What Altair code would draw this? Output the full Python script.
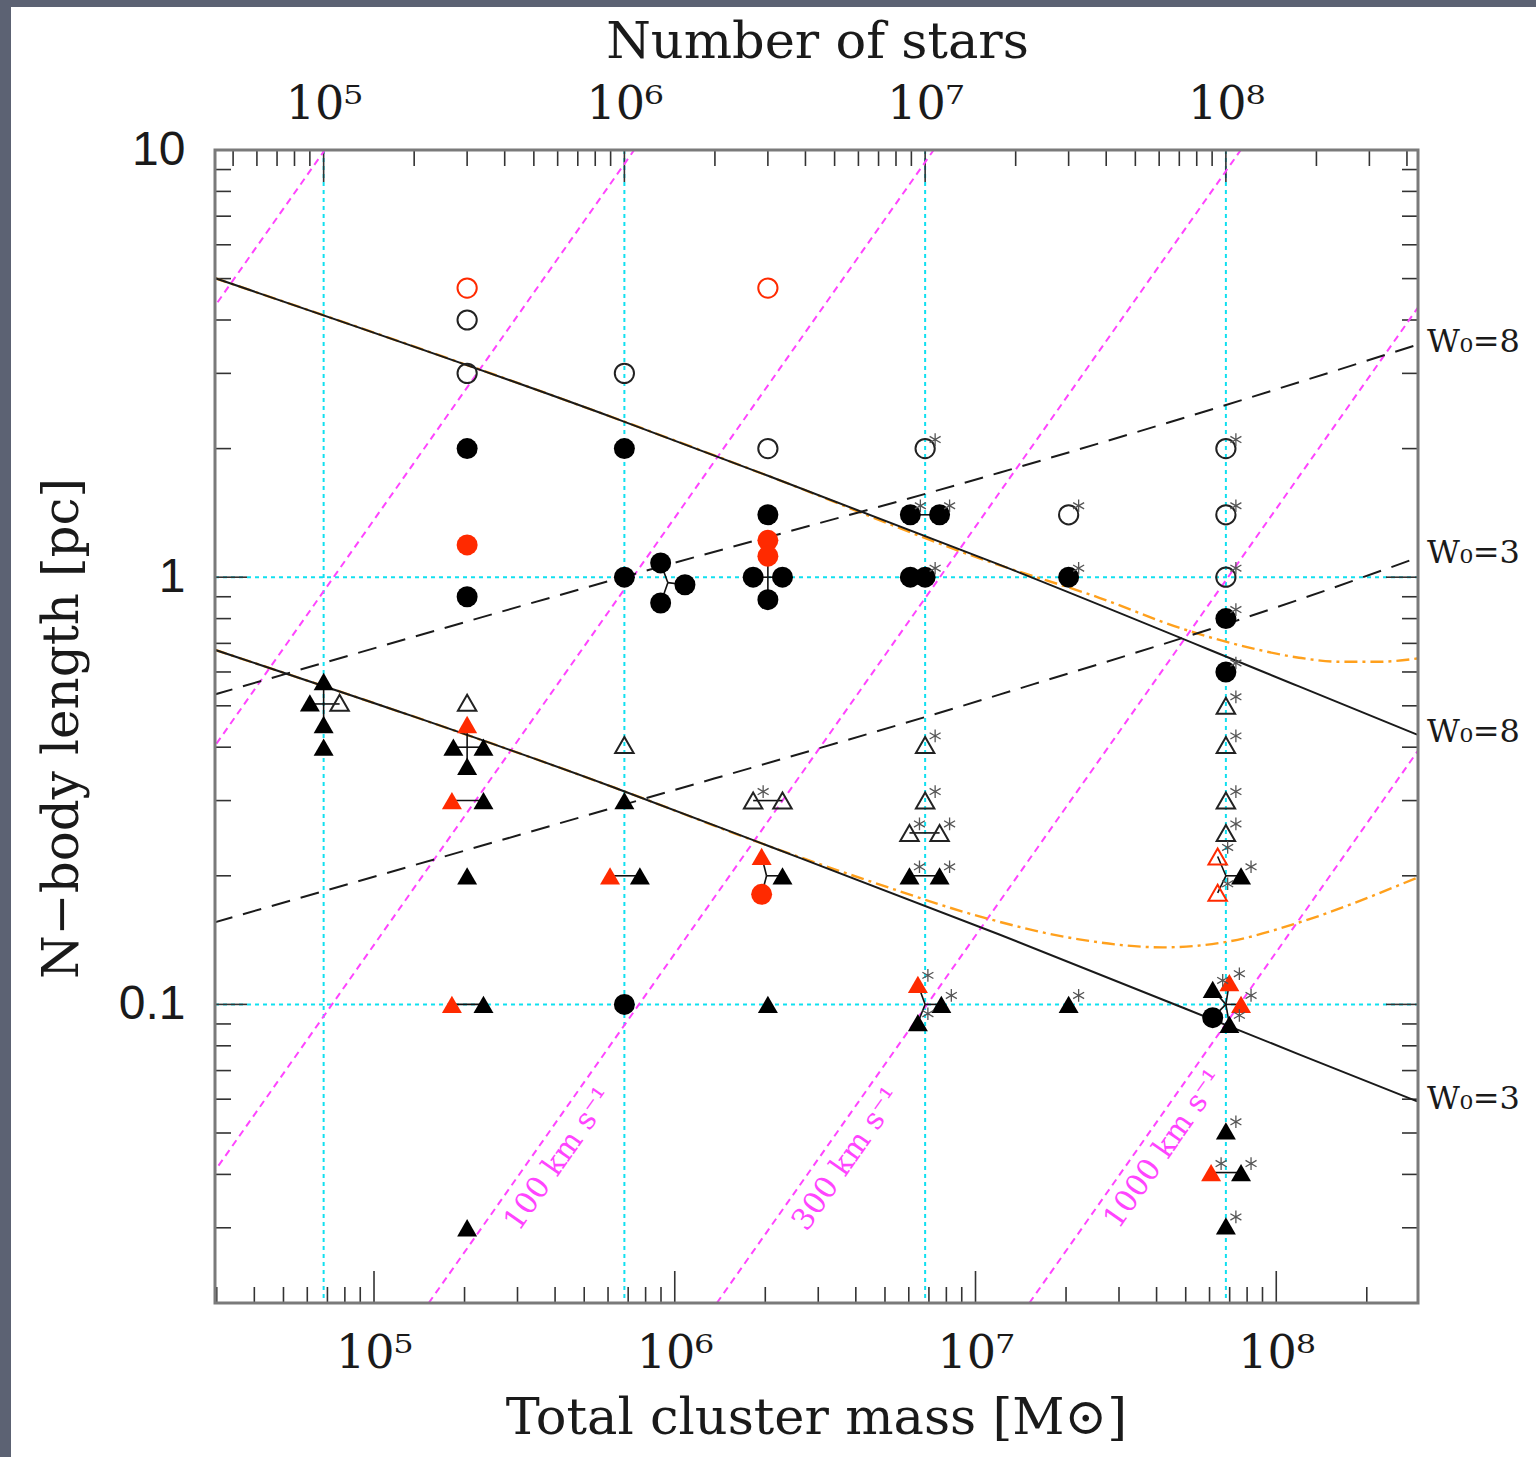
import altair as alt
import pandas as pd

# ---------------- layout constants ----------------
W, H = 1203, 1153
PAD = {"left": 215, "top": 150, "right": 118, "bottom": 154}
M_MIN, M_MAX = 2.96e4, 2.96e8      # total cluster mass range [Msun]
R_MIN, R_MAX = 0.02, 10.0          # N-body length range [pc]
MSTAR = 0.68                       # mean stellar mass linking top (N) and bottom (M) axes
N_MIN, N_MAX = M_MIN / MSTAR, M_MAX / MSTAR

# ---------------- data ----------------
# model curves (mass, length)
w8_solid_mass = [2.94e4, 6.28e5, 2.03e6, 1.20e7, 1.19e8, 2.94e8]
w8_solid_r = [5.02, 2.36, 1.73, 1.07, 0.555, 0.428]
w3_solid_mass = [2.94e4, 6.28e5, 2.03e6, 1.20e7, 1.19e8, 2.94e8]
w3_solid_r = [0.677, 0.322, 0.2355, 0.1458, 0.0764, 0.0593]

w8_dash_mass = [2.94e4, 6.28e5, 1.20e7, 5.75e7, 2.94e8]
w8_dash_r = [0.531, 0.987, 1.756, 2.44, 3.50]
w3_dash_mass = [2.94e4, 6.28e5, 1.20e7, 1.19e8, 2.94e8]
w3_dash_r = [0.1555, 0.289, 0.531, 0.886, 1.11]

w8_tidal_mass = [2.94e4, 6.28e5, 2.03e6, 1.11e7, 2.58e7, 4.75e7, 8.13e7, 1.19e8, 1.62e8, 2.20e8, 2.94e8]
w8_tidal_r = [5.02, 2.36, 1.73, 1.087, 0.895, 0.762, 0.684, 0.648, 0.634, 0.634, 0.645]
w3_tidal_mass = [2.94e4, 6.28e5, 2.03e6, 4.78e6, 1.03e7, 2.21e7, 4.18e7, 6.97e7, 1.19e8, 2.94e8]
w3_tidal_r = [0.677, 0.322, 0.2355, 0.191, 0.1607, 0.142, 0.136, 0.1404, 0.1555, 0.198]

# constant-velocity lines: mass where each line meets r = 0.02 pc and r = 10 pc
vel_names = ["3", "10", "30", "100", "300", "1000"]
vel_mass_bottom = [1.37e2, 1.47e3, 1.45e4, 1.52e5, 1.38e6, 1.51e7]
vel_mass_top = [6.86e4, 7.33e5, 7.26e6, 7.62e7, 6.92e8, 7.53e9]

vel_label_text = ["100 km s\u207b\u00b9", "300 km s\u207b\u00b9", "1000 km s\u207b\u00b9"]
vel_label_mass = [4.12e5, 3.74e6, 4.24e7]
vel_label_r = [0.0434, 0.0434, 0.0458]

w_label_text = ["W\u2080=8", "W\u2080=3", "W\u2080=8", "W\u2080=3"]
w_label_r = [3.55, 1.14, 0.433, 0.06]

grid_N = [1e5, 1e6, 1e7, 1e8]
grid_r = [1.0, 0.1]

# simulation markers: (number of stars, length [pc], asterisk flag)
black_filled_tri = [
    (1.0e5, 0.57, 0), (9.0e4, 0.508, 0), (1.0e5, 0.452, 0), (1.0e5, 0.40, 0),
    (2.7e5, 0.40, 0), (3.4e5, 0.40, 0), (3e5, 0.361, 0), (3.4e5, 0.30, 0),
    (3e5, 0.20, 0), (3.4e5, 0.10, 0), (3e5, 0.03, 0),
    (1e6, 0.30, 0), (1.126e6, 0.20, 0), (3.355e6, 0.20, 0), (3e6, 0.10, 0),
    (8.87e6, 0.20, 1), (1.117e7, 0.20, 1), (1.132e7, 0.10, 1), (9.46e6, 0.0906, 1),
    (3e7, 0.10, 1),
    (1.123e8, 0.20, 1), (9.04e7, 0.1084, 1), (1.027e8, 0.0898, 1),
    (1e8, 0.0506, 1), (1.123e8, 0.0404, 1), (1e8, 0.0303, 1),
]
red_filled_tri = [
    (3e5, 0.452, 0), (2.67e5, 0.30, 0), (2.67e5, 0.10, 0), (8.96e5, 0.20, 0),
    (2.86e6, 0.222, 0), (9.46e6, 0.1114, 1), (1.027e8, 0.1124, 1),
    (1.123e8, 0.10, 1), (8.93e7, 0.0404, 1),
]
black_open_tri = [
    (1.13e5, 0.508, 0), (3e5, 0.508, 0), (1e6, 0.405, 0),
    (2.68e6, 0.30, 1), (3.355e6, 0.30, 0),
    (1e7, 0.405, 1), (1e7, 0.30, 1), (8.87e6, 0.252, 1), (1.117e7, 0.252, 1),
    (1e8, 0.50, 1), (1e8, 0.405, 1), (1e8, 0.30, 1), (1e8, 0.252, 1),
]
red_open_tri = [(9.39e7, 0.222, 1), (9.39e7, 0.1825, 1)]
black_filled_circ = [
    (3e5, 2.0, 0), (3e5, 0.9, 0),
    (1e6, 2.0, 0), (1e6, 1.0, 0), (1.32e6, 1.08, 0), (1.59e6, 0.96, 0),
    (1.32e6, 0.87, 0), (1e6, 0.10, 0),
    (3e6, 1.40, 0), (2.68e6, 1.0, 0), (3.355e6, 1.0, 0), (3e6, 0.886, 0),
    (8.93e6, 1.40, 1), (1.117e7, 1.40, 1), (8.93e6, 1.0, 0), (1e7, 1.0, 1),
    (3e7, 1.0, 1), (1e8, 0.80, 1), (1e8, 0.60, 1), (9.04e7, 0.0931, 0),
]
red_filled_circ = [(3e5, 1.19, 0), (3e6, 1.22, 0), (3e6, 1.12, 0), (2.86e6, 0.181, 0)]
black_open_circ = [
    (3e5, 4.0, 0), (3e5, 3.0, 0), (1e6, 3.0, 0), (3e6, 2.0, 0), (1e7, 2.0, 1),
    (3e7, 1.40, 1), (1e8, 2.0, 1), (1e8, 1.40, 1), (1e8, 1.0, 1),
]
red_open_circ = [(3e5, 4.75, 0), (3e6, 4.75, 0)]

# connecting segments between displaced markers: (N1, r1, N2, r2)
connectors = [
    (1e5, 0.57, 1e5, 0.452), (9.0e4, 0.505, 1.13e5, 0.505),
    (3e5, 0.452, 3e5, 0.361), (2.7e5, 0.40, 3.4e5, 0.40),
    (2.67e5, 0.30, 3.4e5, 0.30), (2.67e5, 0.10, 3.4e5, 0.10),
    (1.395e6, 0.971, 1.32e6, 1.08), (1.395e6, 0.971, 1.59e6, 0.96), (1.395e6, 0.971, 1.32e6, 0.87),
    (8.96e5, 0.20, 1.126e6, 0.20),
    (3e6, 1.12, 3e6, 0.886), (2.68e6, 1.0, 3.355e6, 1.0),
    (2.68e6, 0.30, 3.355e6, 0.30),
    (2.86e6, 0.222, 2.97e6, 0.20), (2.97e6, 0.20, 2.86e6, 0.181), (2.97e6, 0.20, 3.355e6, 0.20),
    (8.93e6, 1.40, 1.117e7, 1.40), (8.87e6, 0.252, 1.117e7, 0.252), (8.87e6, 0.20, 1.117e7, 0.20),
    (1e7, 0.10, 9.46e6, 0.1114), (1e7, 0.10, 1.132e7, 0.10), (1e7, 0.10, 9.46e6, 0.0906),
    (1e8, 0.20, 9.39e7, 0.222), (1e8, 0.20, 1.123e8, 0.20), (1e8, 0.20, 9.39e7, 0.1825),
    (1e8, 0.10, 9.04e7, 0.1084), (1e8, 0.10, 1.027e8, 0.1124), (1e8, 0.10, 1.123e8, 0.10),
    (1e8, 0.10, 9.04e7, 0.0931), (1e8, 0.10, 1.027e8, 0.0898),
    (8.93e7, 0.0404, 1.123e8, 0.0404),
]

# axis tick positions
r_major = [0.1, 1.0, 10.0]
r_minor = [k * d for d in (0.01, 0.1, 1.0) for k in range(2, 10) if R_MIN <= k * d <= R_MAX]
m_major = [1e5, 1e6, 1e7, 1e8]
m_minor = [k * d for d in (1e4, 1e5, 1e6, 1e7, 1e8) for k in range(2, 10) if M_MIN <= k * d <= M_MAX]
n_major = [1e5, 1e6, 1e7, 1e8]
n_minor = [k * d for d in (1e4, 1e5, 1e6, 1e7, 1e8) for k in range(2, 10) if N_MIN <= k * d <= N_MAX]

# ---------------- styles ----------------
BORDER = "#5c6273"
CYAN = "#10e0f0"
MAGENTA = "#ff44ff"
ORANGE = "#ffa01c"
RED = "#ff2a00"
INK = "#1a1a1a"
TICK = "#333333"
SERIF = "DejaVu Serif"

yscale = alt.Scale(type="log", domain=[R_MIN, R_MAX], nice=False)
mscale = alt.Scale(type="log", domain=[M_MIN, M_MAX], nice=False)
nscale = alt.Scale(type="log", domain=[N_MIN, N_MAX], nice=False)

SUP = "'10' + ['\u2070','\u00b9','\u00b2','\u00b3','\u2074','\u2075','\u2076','\u2077','\u2078','\u2079'][round(log(datum.value)/LN10)]"

mass_axis = alt.Axis(
    orient="bottom", values=m_major, labelExpr=SUP, ticks=False, domain=False, grid=False,
    labelFont=SERIF, labelFontSize=46, labelColor=INK, labelPadding=28,
    labelFlush=False, labelOverlap=False, zindex=2,
    title="Total cluster mass [M\u2299]", titleFont=SERIF, titleFontSize=51,
    titleFontWeight="normal", titleColor=INK, titleX=601, titleY=115,
    titleBaseline="middle", titleAlign="center",
)
n_axis = alt.Axis(
    orient="top", values=n_major, labelExpr=SUP, ticks=False, domain=False, grid=False,
    labelFont=SERIF, labelFontSize=46, labelColor=INK, labelPadding=22,
    labelFlush=False, labelOverlap=False, zindex=2,
    title="Number of stars", titleFont=SERIF, titleFontSize=51,
    titleFontWeight="normal", titleColor=INK, titleX=602, titleY=-108,
    titleBaseline="middle", titleAlign="center",
)
r_axis = alt.Axis(
    orient="left", values=r_major, format="~g", ticks=False, domain=False, grid=False,
    labelFont="Liberation Sans", labelFontSize=48, labelColor=INK, labelPadding=30,
    labelFlush=False, labelOverlap=False, zindex=2,
    title="N\u2212body length [pc]", titleFont=SERIF, titleFontSize=50,
    titleFontWeight="normal", titleColor=INK, titleX=-153, titleY=578,
    titleAngle=270, titleBaseline="middle", titleAlign="center",
)

# every layer that shares a scale carries the very same axis definition
def Y():
    return alt.Y("r:Q", scale=yscale, axis=r_axis)


def XM(with_axis):
    return alt.X("M:Q", scale=mscale, axis=mass_axis if with_axis else None)


def XN(with_axis):
    return alt.X("N:Q", scale=nscale, axis=n_axis if with_axis else None)


def curves(pairs):
    frames = [pd.DataFrame({"line": name, "M": m, "r": r}) for name, m, r in pairs]
    return pd.concat(frames, ignore_index=True)


# ---------------- group 1: page border, horizontal grid, frame ticks (mass axis) ----------------
one = pd.DataFrame({"k": [0]})
border_left = alt.Chart(one).mark_rect(color=BORDER).encode(
    x=alt.value(-PAD["left"]), x2=alt.value(-PAD["left"] + 11),
    y=alt.value(-PAD["top"]), y2=alt.value(H + PAD["bottom"]),
)
border_top = alt.Chart(one).mark_rect(color=BORDER).encode(
    x=alt.value(-PAD["left"]), x2=alt.value(W + PAD["right"]),
    y=alt.value(-PAD["top"]), y2=alt.value(-PAD["top"] + 7),
)
hgrid = alt.Chart(pd.DataFrame({"r": grid_r})).mark_rule(
    color=CYAN, strokeDash=[4, 4], strokeWidth=2
).encode(y=Y(), x=alt.value(0), x2=alt.value(W))

df_rmin = pd.DataFrame({"r": r_minor})
df_rmaj = pd.DataFrame({"r": r_major})
lt_min = alt.Chart(df_rmin).mark_rule(color=TICK, strokeWidth=1.6).encode(
    y=Y(), x=alt.value(0), x2=alt.value(16))
lt_maj = alt.Chart(df_rmaj).mark_rule(color=TICK, strokeWidth=1.6).encode(
    y=Y(), x=alt.value(0), x2=alt.value(32))
rt_min = alt.Chart(df_rmin).mark_rule(color=TICK, strokeWidth=1.6).encode(
    y=Y(), x=alt.value(W - 16), x2=alt.value(W))
rt_maj = alt.Chart(df_rmaj).mark_rule(color=TICK, strokeWidth=1.6).encode(
    y=Y(), x=alt.value(W - 32), x2=alt.value(W))
bt_min = alt.Chart(pd.DataFrame({"M": m_minor})).mark_rule(color=TICK, strokeWidth=1.6).encode(
    x=XM(True), y=alt.value(H - 16), y2=alt.value(H))
bt_maj = alt.Chart(pd.DataFrame({"M": m_major})).mark_rule(color=TICK, strokeWidth=1.6).encode(
    x=XM(True), y=alt.value(H - 32), y2=alt.value(H))

group_bg = alt.layer(border_left, border_top, hgrid, lt_min, lt_maj, rt_min, rt_maj, bt_min, bt_maj)

# ---------------- group 2: vertical grid and top (number of stars) ticks ----------------
vgrid = alt.Chart(pd.DataFrame({"N": grid_N})).mark_rule(
    color=CYAN, strokeDash=[4, 4], strokeWidth=2
).encode(x=XN(True), y=alt.value(0), y2=alt.value(H))
tt_min = alt.Chart(pd.DataFrame({"N": n_minor})).mark_rule(color=TICK, strokeWidth=1.6).encode(
    x=XN(True), y=alt.value(0), y2=alt.value(16))
tt_maj = alt.Chart(pd.DataFrame({"N": n_major})).mark_rule(color=TICK, strokeWidth=1.6).encode(
    x=XN(True), y=alt.value(0), y2=alt.value(32))

group_n1 = alt.layer(vgrid, tt_min, tt_maj)

# ---------------- group 3: model curves and annotations ----------------
vel_df = pd.DataFrame({
    "line": vel_names + vel_names,
    "M": vel_mass_bottom + vel_mass_top,
    "r": [R_MIN] * len(vel_names) + [R_MAX] * len(vel_names),
})
vel_lines = alt.Chart(vel_df).mark_line(
    color=MAGENTA, strokeDash=[7, 5], strokeWidth=2, clip=True
).encode(x=XM(False), y=Y(), detail="line:N")

tidal_df = curves([("W8", w8_tidal_mass, w8_tidal_r), ("W3", w3_tidal_mass, w3_tidal_r)])
tidal = alt.Chart(tidal_df).mark_line(
    color=ORANGE, strokeDash=[13, 5, 3, 5], strokeWidth=2.4, clip=True, interpolate="monotone"
).encode(x=XM(False), y=Y(), detail="line:N")

dash_df = curves([("W8", w8_dash_mass, w8_dash_r), ("W3", w3_dash_mass, w3_dash_r)])
dashed = alt.Chart(dash_df).mark_line(
    color=INK, strokeDash=[19, 11], strokeWidth=2, clip=True, interpolate="monotone"
).encode(x=XM(False), y=Y(), detail="line:N")

solid_df = curves([("W8", w8_solid_mass, w8_solid_r), ("W3", w3_solid_mass, w3_solid_r)])
solid = alt.Chart(solid_df).mark_line(
    color=INK, strokeWidth=2, clip=True, interpolate="monotone"
).encode(x=XM(False), y=Y(), detail="line:N")

vlab = alt.Chart(pd.DataFrame({"M": vel_label_mass, "r": vel_label_r, "t": vel_label_text})).mark_text(
    angle=305, font=SERIF, fontSize=30, color=MAGENTA, align="center", baseline="middle"
).encode(x=XM(False), y=Y(), text="t:N")

wlab = alt.Chart(pd.DataFrame({"M": [M_MAX] * 4, "r": w_label_r, "t": w_label_text})).mark_text(
    font=SERIF, fontSize=32, color=INK, align="left", baseline="middle", dx=9
).encode(x=XM(False), y=Y(), text="t:N")

group_lines = alt.layer(vel_lines, tidal, dashed, solid, vlab, wlab)

# ---------------- group 4: simulation markers ----------------
rows = []
for lst, shape, filled, col in [
    (black_filled_circ, "circle", True, "#000000"),
    (red_filled_circ, "circle", True, RED),
    (black_open_circ, "circle", False, "#222222"),
    (red_open_circ, "circle", False, RED),
    (black_filled_tri, "triangle-up", True, "#000000"),
    (red_filled_tri, "triangle-up", True, RED),
    (black_open_tri, "triangle-up", False, "#222222"),
    (red_open_tri, "triangle-up", False, RED),
]:
    for n, r, s in lst:
        rows.append({"N": n, "r": r, "star": s, "shape": shape, "filled": filled, "col": col})
mk = pd.DataFrame(rows)

conn_df = pd.DataFrame(connectors, columns=["N", "r", "N2", "r2"])
conn = alt.Chart(conn_df).mark_rule(color="#111111", strokeWidth=1.6).encode(
    x=XN(False), x2="N2:Q", y=Y(), y2="r2:Q")


def marker_layer(shape, filled, size):
    base = alt.Chart(mk).transform_filter(
        (alt.datum.shape == shape) & (alt.datum.filled == filled))
    if filled:
        m = base.mark_point(shape=shape, filled=True, size=size, opacity=1, strokeWidth=0)
    else:
        m = base.mark_point(shape=shape, filled=False, size=size, opacity=1, strokeWidth=2)
    return m.encode(x=XN(False), y=Y(), color=alt.Color("col:N", scale=None))


ASTERISK = "M0,-1L0,1M-0.87,-0.5L0.87,0.5M-0.87,0.5L0.87,-0.5"
stars = alt.Chart(mk).transform_filter(alt.datum.star == 1).mark_point(
    shape=ASTERISK, size=160, filled=False, strokeWidth=1.3, color="#555555",
    opacity=1, xOffset=10, yOffset=-9,
).encode(x=XN(False), y=Y())

frame = alt.Chart(one).mark_rect(
    fillOpacity=0, stroke="#7a7a7a", strokeWidth=3
).encode(x=alt.value(0), x2=alt.value(W), y=alt.value(0), y2=alt.value(H))

group_mk = alt.layer(
    conn,
    marker_layer("circle", True, 440),
    marker_layer("circle", False, 370),
    marker_layer("triangle-up", True, 400),
    marker_layer("triangle-up", False, 340),
    stars,
    frame,
)

chart = (
    alt.layer(group_bg, group_n1, group_lines, group_mk)
    .resolve_scale(x="independent")
    .properties(
        width=W, height=H, padding=PAD,
        autosize=alt.AutoSizeParams(type="none"),
    )
    .configure(background="white")
    .configure_view(strokeWidth=0)
)

chart.save("out.html", embed_options={"renderer": "svg", "actions": False})
